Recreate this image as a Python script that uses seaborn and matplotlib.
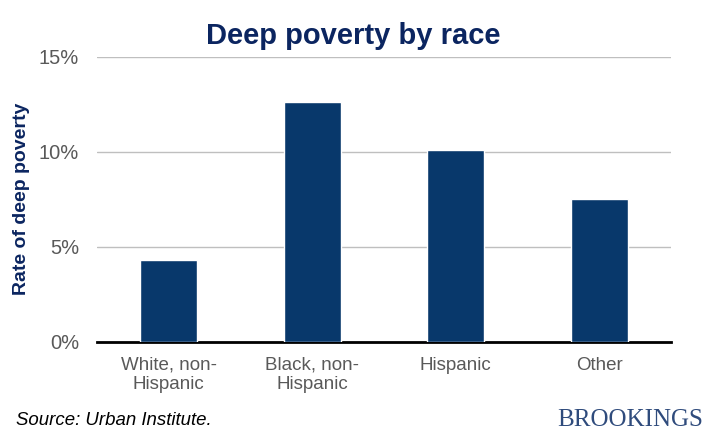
import seaborn as sns
import matplotlib.pyplot as plt
import pandas as pd

# Data
groups = ['White, non-\nHispanic', 'Black, non-\nHispanic', 'Hispanic', 'Other']
rates = [4.3, 12.6, 10.1, 7.5]
yticks = [0, 5, 10, 15]

df = pd.DataFrame({'group': groups, 'rate': rates})

sns.set_style('white')
plt.rcParams['font.family'] = ['Liberation Sans', 'DejaVu Sans']

fig = plt.figure(figsize=(7.06, 4.33), dpi=100)
ax = fig.add_axes([0.1374, 0.2109, 0.813, 0.6581])

sns.barplot(data=df, x='group', y='rate', color='#08386B', width=0.4,
            saturation=1, ax=ax, zorder=3)

ax.set_ylim(0, 15)
ax.set_xlim(-0.5, 3.5)
ax.set_yticks(yticks)
ax.set_yticklabels([f'{t}%' for t in yticks])
ax.yaxis.grid(True, color='#BFBFBF', linewidth=1, zorder=0)
ax.set_axisbelow(True)
for s in ['top', 'right', 'left']:
    ax.spines[s].set_visible(False)
ax.spines['bottom'].set_color('black')
ax.spines['bottom'].set_linewidth(2)
ax.tick_params(axis='y', length=0, labelsize=14.5, labelcolor='#595959', pad=13)
ax.tick_params(axis='x', length=0, labelsize=13.5, labelcolor='#595959', pad=11)
for lbl in ax.get_xticklabels():
    lbl.set_linespacing(1.15)

ax.set_xlabel('')
ax.set_ylabel('Rate of deep poverty', fontsize=14, fontweight='bold', color='#0B2560', labelpad=6)

fig.text(0.5, 0.918, 'Deep poverty by race', ha='center', va='center', fontsize=21,
         fontweight='bold', color='#0B2560')
fig.text(0.022, 0.03, 'Source: Urban Institute.', ha='left', va='center', fontsize=13.4,
         style='italic', color='black')
fig.text(0.996, 0.03, 'BROOKINGS', ha='right', va='center', fontsize=18,
         family='Liberation Serif', color='#2F4B7C')

plt.savefig('out.png', dpi=100)
